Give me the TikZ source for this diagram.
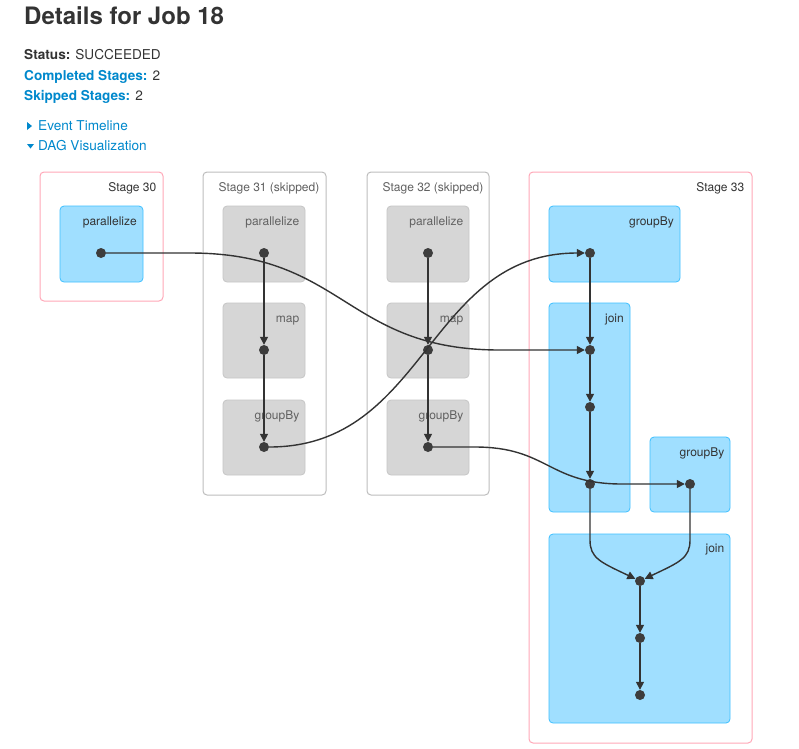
\documentclass[tikz,border=0pt]{standalone}
\usepackage{fontspec}
\setmainfont{TeX Gyre Heros}
\usetikzlibrary{arrows.meta}

\definecolor{txt}{HTML}{333333}
\definecolor{link}{HTML}{0088CC}
\definecolor{opblue}{HTML}{A0DFFF}
\definecolor{opblueline}{HTML}{3EC0FF}
\definecolor{opgray}{HTML}{D6D6D6}
\definecolor{opgrayline}{HTML}{C6C6C6}
\definecolor{stagepink}{HTML}{FFA8B8}
\definecolor{stagegray}{HTML}{BDBDBD}
\definecolor{edgec}{HTML}{333333}
\definecolor{dotc}{HTML}{3D3D3D}

\tikzset{
  stagebox/.style={draw=stagepink, line width=1pt, rounded corners=4pt, fill=white, inner sep=0pt},
  skipstage/.style={stagebox, draw=stagegray},
  opbox/.style={draw=opblueline, fill=opblue, line width=0.8pt, rounded corners=4pt, inner sep=0pt},
  skipop/.style={opbox, draw=opgrayline, fill=opgray},
  boxlabel/.style={anchor=base east, inner sep=0pt, text=txt, font=\fontsize{12}{14}\selectfont},
  skiplabel/.style={boxlabel, text=black!62},
  headline/.style={anchor=base west, inner sep=0pt, text=txt, font=\fontsize{13.6}{16}\selectfont},
  rdd/.style={circle, fill=dotc, minimum size=10pt, inner sep=0pt},
  flow/.style={draw=edgec, line width=1.4pt, -{Triangle[length=8pt,width=8pt]}},
}

\begin{document}
\begin{tikzpicture}[x=1pt,y=-1pt]
\useasboundingbox (0,0) rectangle (799,748);

% ---- page header ----
\node[anchor=base west, inner sep=0pt, text=txt, font=\fontsize{24}{28}\selectfont\bfseries] (title) at (24,24) {Details for Job 18};
\node[headline] (status) at (24,59) {\textbf{Status:} SUCCEEDED};
\node[headline] (completed) at (24,80.5) {\textcolor{link}{\textbf{Completed Stages:}} 2};
\node[headline] (skipped) at (24,100.5) {\textcolor{link}{\textbf{Skipped Stages:}} 2};
\fill[link] (27,122) -- (32,126) -- (27,130) -- cycle;
\node[headline, text=link] (timeline) at (38,130.5) {Event Timeline};
\fill[link] (27,144) -- (34,144) -- (30.5,148.5) -- cycle;
\node[headline, text=link] (dagviz) at (38,150.5) {DAG Visualization};

% ---- stage clusters ----
\node[stagebox, minimum width=123pt, minimum height=129pt] (st30) at (101.5,236.5) {};
\node[skipstage, minimum width=123pt, minimum height=323pt] (st31) at (264.5,333.5) {};
\node[skipstage, minimum width=122pt, minimum height=323pt] (st32) at (428,333.5) {};
\node[stagebox, minimum width=223pt, minimum height=571pt] (st33) at (640.5,457.5) {};
\node[boxlabel] (lst30) at (156.5,191) {Stage 30};
\node[skiplabel] (lst31) at (319.5,191) {Stage 31 (skipped)};
\node[skiplabel] (lst32) at (483.5,191) {Stage 32 (skipped)};
\node[boxlabel] (lst33) at (744.5,191) {Stage 33};

% ---- operation clusters ----
\node[opbox, minimum width=83pt, minimum height=76pt] (op30p) at (101.5,244) {};
\node[boxlabel] at (137,225) {parallelize};

\node[skipop, minimum width=82pt, minimum height=76pt] (op31p) at (264,244) {};
\node[skiplabel] at (299.5,225) {parallelize};
\node[skipop, minimum width=82pt, minimum height=75pt] (op31m) at (264,340.5) {};
\node[skiplabel] at (299.5,322) {map};
\node[skipop, minimum width=82pt, minimum height=75pt] (op31g) at (264,437.5) {};
\node[skiplabel] at (299.5,419) {groupBy};

\node[skipop, minimum width=82pt, minimum height=76pt] (op32p) at (428,244) {};
\node[skiplabel] at (463.5,225) {parallelize};
\node[skipop, minimum width=82pt, minimum height=75pt] (op32m) at (428,340.5) {};
\node[skiplabel] at (463.5,322) {map};
\node[skipop, minimum width=82pt, minimum height=75pt] (op32g) at (428,437.5) {};
\node[skiplabel] at (463.5,419) {groupBy};

\node[opbox, minimum width=131pt, minimum height=76pt] (op33g) at (614.5,244) {};
\node[boxlabel] at (674,225) {groupBy};
\node[opbox, minimum width=81pt, minimum height=209pt] (op33j) at (589.5,407.5) {};
\node[boxlabel] at (624,322) {join};
\node[opbox, minimum width=80pt, minimum height=75pt] (op33h) at (690,474.5) {};
\node[boxlabel] at (724.5,456) {groupBy};
\node[opbox, minimum width=181pt, minimum height=189pt] (op33k) at (639.5,628.5) {};
\node[boxlabel] at (724.5,552.5) {join};

% ---- RDD dots ----
\node[rdd] (p30) at (101,253) {};
\node[rdd] (p31) at (264,253) {};
\node[rdd] (m31) at (264,350) {};
\node[rdd] (g31) at (264,447) {};
\node[rdd] (p32) at (428,253) {};
\node[rdd] (m32) at (428,350) {};
\node[rdd] (g32) at (428,447) {};
\node[rdd] (g33) at (590,253) {};
\node[rdd] (ja) at (590,350) {};
\node[rdd] (jb) at (590,407) {};
\node[rdd] (jc) at (590,484) {};
\node[rdd] (gb) at (690,484) {};
\node[rdd] (ka) at (640,581) {};
\node[rdd] (kb) at (640,638) {};
\node[rdd] (kc) at (640,695) {};

% ---- edges inside stages ----
\draw[flow] (p31) -- (m31);
\draw[flow] (m31) -- (g31);
\draw[flow] (p32) -- (m32);
\draw[flow] (m32) -- (g32);
\draw[flow] (g33) -- (ja);
\draw[flow] (ja) -- (jb);
\draw[flow] (jb) -- (jc);
\draw[flow] (jc) -- (590,540) .. controls (590,558) and (600,562) .. (ka);
\draw[flow] (gb) -- (690,540) .. controls (690,558) and (680,562) .. (ka);
\draw[flow] (ka) -- (kb);
\draw[flow] (kb) -- (kc);

% ---- edges across stages ----
\draw[flow] (p30) -- (190,253) .. controls (345,253) and (345,350) .. (500,350) -- (ja);
\draw[flow] (g31) .. controls (427,447) and (427,253) .. (g33);
\draw[flow] (g32) -- (475,447) .. controls (548,447) and (548,484) .. (622,484) -- (gb);
\end{tikzpicture}
\end{document}
